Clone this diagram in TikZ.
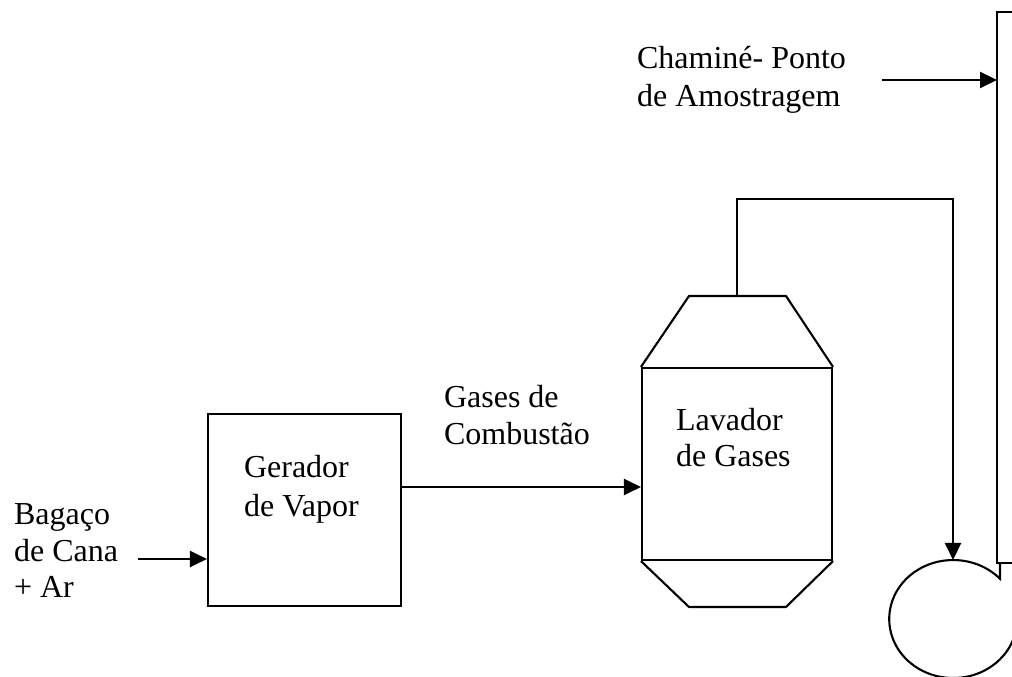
\documentclass[tikz,border=0pt]{standalone}
\usepackage{fontspec}
\setmainfont{Liberation Serif}
\usetikzlibrary{arrows.meta}
\begin{document}
\begin{tikzpicture}[x=1pt,y=1pt,
  line width=2.1pt,
  flow/.style={-{Triangle[length=17pt,width=16pt]}},
  lbl/.style={anchor=base west,inner sep=0pt,font=\fontsize{32}{38}\selectfont},
  unit/.style={draw,line width=2.1pt,inner sep=0pt}]
\useasboundingbox (0,0) rectangle (1012,677);

% steam generator
\node[unit,minimum width=193pt,minimum height=192pt] (ger) at (304.5,167) {};
\node[lbl] (gerA) at (243,199) {Gerador};
\node[lbl] (gerB) at (243,160) {de Vapor};

% bagasse + air feed
\node[lbl] (feedA) at (13,152) {Bagaço};
\node[lbl] (feedB) at (13,115) {de Cana};
\node[lbl] (feedC) at (13,79) {+ Ar};
\coordinate (feedin) at (138,118);
\draw[flow] (feedin) -- (feedin -| ger.west);

% gas scrubber: body with conical top and bottom
\node[unit,minimum width=190pt,minimum height=192pt] (lav) at (737,213) {};
\coordinate (lavtopL) at (689,381);
\coordinate (lavtopR) at (786,381);
\coordinate (lavbotL) at (689,70);
\coordinate (lavbotR) at (786,70);
\coordinate (lavout) at (737,381);
\draw[line join=round] (lav.north west) -- (lavtopL) -- (lavtopR) -- (lav.north east);
\draw[line join=round] (lav.south west) -- (lavbotL) -- (lavbotR) -- (lav.south east);
\node[lbl] (lavA) at (675,246) {Lavador};
\node[lbl] (lavB) at (675,210) {de Gases};

% combustion gases line
\coordinate (gout) at (401,190);
\draw[flow] (gout) -- (gout -| lav.west);
\node[lbl] (gasA) at (443,269) {Gases de};
\node[lbl] (gasB) at (443,232) {Combustão};

% separator vessel and pipe from scrubber top
\coordinate (septop) at (953,117);
\coordinate (pipeA) at (737,478);
\coordinate (pipeB) at (953,478);
\draw[flow] (lavout) -- (pipeA) -- (pipeB) -- (septop);
\coordinate (chbotL) at (997,114);
\coordinate (chneck) at (1000,114);
\draw (chneck) -- (1000,98.2) arc[start angle=43,end angle=375,x radius=64,y radius=59];

% stack
\coordinate (chtopL) at (997,665);
\draw (1014,665) -- (chtopL) -- (chbotL) -- (1014,114);
\coordinate (sample) at (882,597);
\draw[flow] (sample) -- (sample -| chtopL);
\node[lbl] (stkA) at (636,608) {Chaminé- Ponto};
\node[lbl] (stkB) at (636,570) {de Amostragem};
\end{tikzpicture}
\end{document}
